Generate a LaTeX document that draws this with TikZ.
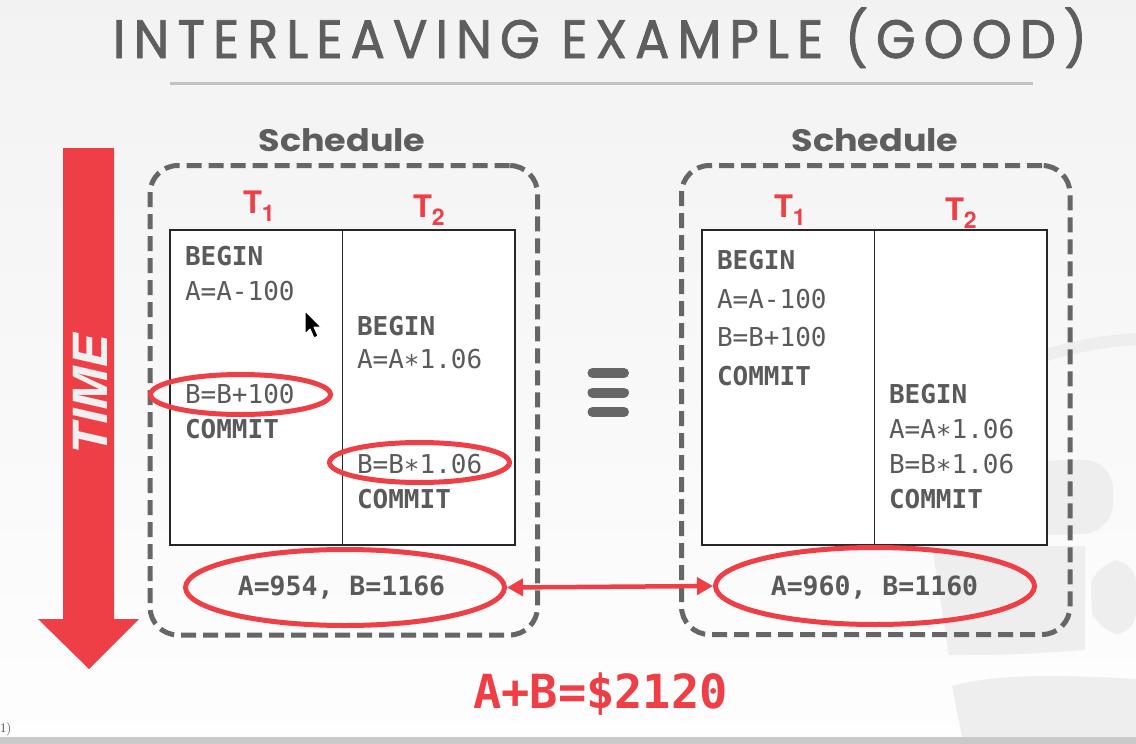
\documentclass[tikz,border=0pt]{standalone}
\usepackage{fontspec}
\usepackage{graphicx}
\usetikzlibrary{shapes.geometric,arrows.meta}
\newfontfamily\monof{DejaVu Sans Mono}
\newfontfamily\titlef{Poppins}[LetterSpace=16, FakeBold=1.6]
\newfontfamily\headf{Poppins}
\newfontfamily\herosf{TeX Gyre Heros}
\definecolor{sred}{HTML}{EF3F46}
\definecolor{dgray}{HTML}{666666}
\definecolor{tgray}{HTML}{5A5A5A}
\definecolor{titlegray}{HTML}{5E5E5E}
\definecolor{wm}{HTML}{EEEEEE}
\newcommand\mreg{\monof\fontsize{26}{26}\selectfont}
\newcommand\mbold{\monof\bfseries\fontsize{26}{26}\selectfont}
\newcommand\Tlab[1]{\herosf\bfseries\fontsize{31}{31}\selectfont T\raisebox{-8pt}{\fontsize{23}{23}\selectfont #1}}
\newcommand\st{\char"2217\relax}
\tikzset{
  txt/.style={inner sep=0pt, outer sep=0pt},
  mono/.style={txt, anchor=base west, text=tgray},
  tlabel/.style={txt, anchor=base west, text=sred},
  schedbox/.style={draw=dgray, line width=5pt, dash pattern=on 15pt off 7pt, rounded corners=28pt, rectangle, inner sep=0pt},
  tablebox/.style={draw=black!85, line width=1.4pt, fill=white, rectangle, inner sep=0pt},
  redell/.style={ellipse, draw=sred, line width=5pt, inner sep=0pt},
  eqbar/.style={draw=dgray, line width=10pt, line cap=round},
}
\begin{document}
\begin{tikzpicture}[x=1pt,y=-1pt]
\useasboundingbox (0,0) rectangle (1136,744);
% background
\shade[top color=black!5, bottom color=black!0.5] (0,0) rectangle (1136,737);
\fill[black!21] (0,737) rectangle (1136,744);
% faint watermark
\draw[wm, line width=12pt] (1040,357) .. controls (1075,346) and (1105,341) .. (1136,339);
\fill[wm, rounded corners=30pt] (990,462) -- (1113,459) -- (1113,533) -- (990,537) -- cycle;
\fill[wm, rounded corners=24pt] (1136,559) -- (1096,562) -- (1088,598) -- (1098,633) -- (1136,636) -- cycle;
\fill[wm] (932,546) -- (1085,546) -- (1085,650) .. controls (1010,655) .. (949,655) -- cycle;
\fill[wm] (952,686) .. controls (1000,672) and (1080,676) .. (1136,679) -- (1136,737) -- (962,737) -- cycle;
% title
\node[txt, anchor=base, text=titlegray] (title) at (600,58)
  {\resizebox{974pt}{\height}{\fontsize{54}{54}\selectfont\titlef INTERLEAVING EXAMPLE (GOOD)}};
\draw[black!24, line width=3pt] (170,83) -- (1033,83);
% TIME arrow
\fill[sred] (63,148) -- (114,148) -- (114,619) -- (139,619) -- (89,669) -- (38,619) -- (63,619) -- cycle;
\node[txt, rotate=90, text=black!6] (time) at (90,395)
  {\resizebox{120pt}{\height}{\herosf\bfseries\itshape\fontsize{47}{47}\selectfont TIME}};
% schedule headings
\node[txt, anchor=base, text=titlegray] (schL) at (342,151)
  {\resizebox{167pt}{\height}{\headf\bfseries\fontsize{31}{31}\selectfont Schedule}};
\node[txt, anchor=base, text=titlegray] (schR) at (875,151)
  {\resizebox{167pt}{\height}{\headf\bfseries\fontsize{31}{31}\selectfont Schedule}};
% dashed boxes
\node[schedbox, minimum width=387.5pt, minimum height=469.5pt] (boxL) at (343.75,400.25) {};
\node[schedbox, minimum width=388.5pt, minimum height=469pt] (boxR) at (875.75,400) {};
% T labels
\node[tlabel] (t1L) at (243,213) {\Tlab{1}};
\node[tlabel] (t2L) at (413,217) {\Tlab{2}};
\node[tlabel] (t1R) at (774,217) {\Tlab{1}};
\node[tlabel] (t2R) at (945,220) {\Tlab{2}};
% tables
\node[tablebox, minimum width=345pt, minimum height=315pt] (tabL) at (342.5,387.5) {};
\draw[black!85, line width=1.4pt] (tabL.north) -- (tabL.south);
\node[tablebox, minimum width=345pt, minimum height=315pt] (tabR) at (874.5,387.5) {};
\draw[black!85, line width=1.4pt] (tabR.north) -- (tabR.south);
% left schedule text
\node[mono] (l1) at (185,265) {\mbold BEGIN};
\node[mono] (l2) at (185,300) {\mreg A=A-100};
\node[mono] (l3) at (185,403) {\mreg B=B+100};
\node[mono] (l4) at (185,438) {\mbold COMMIT};
\node[mono] (l5) at (357,335) {\mbold BEGIN};
\node[mono] (l6) at (357,368) {\mreg A=A\st 1.06};
\node[mono] (l7) at (357,473) {\mreg B=B\st 1.06};
\node[mono] (l8) at (357,508) {\mbold COMMIT};
% right schedule text
\node[mono] (r1) at (717,269) {\mbold BEGIN};
\node[mono] (r2) at (717,308) {\mreg A=A-100};
\node[mono] (r3) at (717,346) {\mreg B=B+100};
\node[mono] (r4) at (717,385) {\mbold COMMIT};
\node[mono] (r5) at (889,403) {\mbold BEGIN};
\node[mono] (r6) at (889,438) {\mreg A=A\st 1.06};
\node[mono] (r7) at (889,473) {\mreg B=B\st 1.06};
\node[mono] (r8) at (889,508) {\mbold COMMIT};
% results
\node[txt, anchor=base, text=tgray] (resL) at (341.5,595) {\monof\bfseries\fontsize{26.5}{26.5}\selectfont A=954, B=1166};
\node[txt, anchor=base, text=tgray] (resR) at (874.5,595) {\monof\bfseries\fontsize{26.5}{26.5}\selectfont A=960, B=1160};
% red ellipses
\node[redell, minimum width=180pt, minimum height=40pt] (eB1) at (240.5,394.5) {};
\node[redell, minimum width=180pt, minimum height=40pt] (eB2) at (419.5,462.5) {};
\node[redell, minimum width=319pt, minimum height=76pt] (eL) at (345,587.5) {};
\node[redell, minimum width=319pt, minimum height=77pt] (eR) at (875,586) {};
\draw[sred, line width=4.5pt, {Triangle[length=16pt,width=17pt]}-{Triangle[length=16pt,width=17pt]}] (eL.east) -- (eR.west);
% equivalence sign
\draw[eqbar] (592.5,373) -- (624,373);
\draw[eqbar] (592.5,392.5) -- (624,392.5);
\draw[eqbar] (592.5,412) -- (624,412);
% total
\node[txt, anchor=base, text=sred] (total) at (600.5,708) {\monof\bfseries\fontsize{47}{47}\selectfont A+B=\$2120};
% mouse pointer
\filldraw[fill=black, draw=white, line width=1pt, line join=round] (305,311) -- (305,334) -- (310,329) -- (314,338) -- (318,336) -- (314,327) -- (321,327) -- cycle;
% corner fragment
\node[txt, anchor=base west, text=black!75] (frag) at (0,732) {\fontsize{13}{13}\selectfont 1)};
\end{tikzpicture}
\end{document}
